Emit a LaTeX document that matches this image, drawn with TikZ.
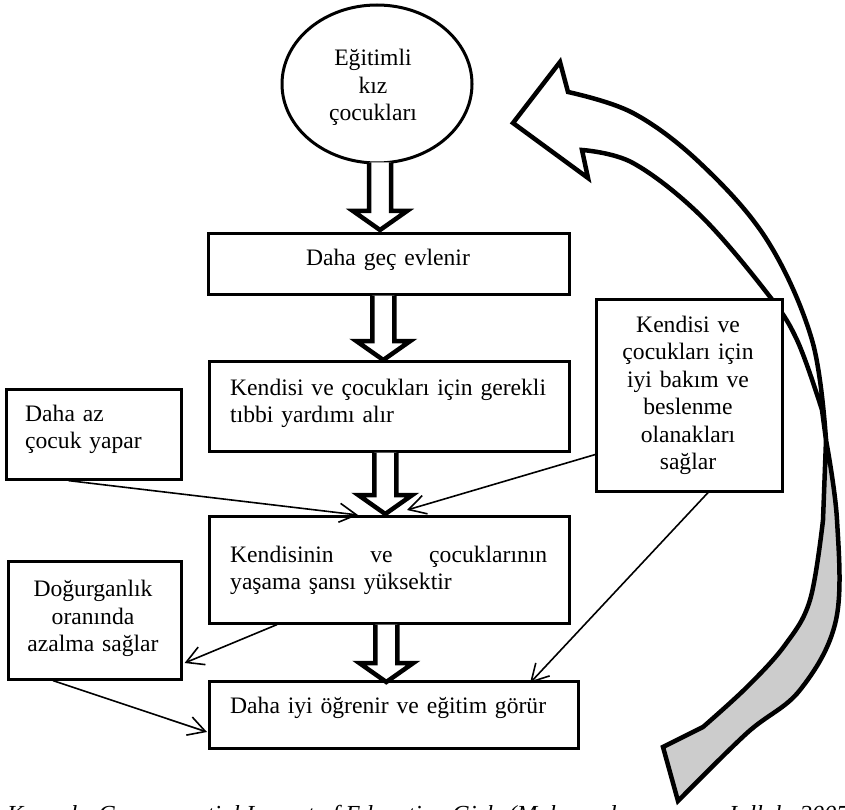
\documentclass[tikz,border=0pt]{standalone}
\usepackage{fontspec}
\setmainfont{Liberation Serif}
\usetikzlibrary{calc,arrows.meta,shapes.geometric}
\newcommand\dfont{\fontsize{23.6pt}{27.5pt}\selectfont}
\newcommand\holarrow[2]{%
  \draw[holl] ($(#1)+(-11,0)$) -- ($(#2)+(-11,-19)$) -- ($(#2)+(-27,-19)$) -- (#2)
    -- ($(#2)+(27,-19)$) -- ($(#2)+(11,-19)$) -- ($(#1)+(11,0)$);}
\begin{document}
\begin{tikzpicture}[x=1pt,y=-1pt,
  box/.style={draw, line width=2.6pt, fill=white, inner sep=0pt, anchor=north west},
  txt/.style={inner sep=0pt, font=\dfont},
  conn/.style={line width=1.6pt, -{Straight Barb[length=17pt,width=19pt]}},
  holl/.style={draw, line width=4.5pt, fill=white, line join=miter, miter limit=10},
  bigarr/.style={draw, line width=4.5pt, line join=miter, miter limit=10}
]
\useasboundingbox (0,0) rectangle (845,810);

% caption (cut at the bottom)
\node[txt, font=\fontsize{24.5pt}{28pt}\selectfont\itshape, anchor=base west] (cap) at (7,822)
  {Kaynak: Consequential Impact of Education Girls (Mahmoud\hspace{110pt}Jalloh, 2007)};

% curved arrow
\draw[bigarr, fill=gray!40]
  plot[smooth, tension=0.6] coordinates {(826,440) (837,520) (836,620) (800,690) (747,733) (678,801)}
  -- (663,747)
  -- plot[smooth, tension=0.6] coordinates {(703,727) (747,687) (785,645) (810,600) (823,520)}
  -- cycle;
\draw[bigarr, fill=white]
  (513,123) -- (560,62)
  -- plot[smooth, tension=0.6] coordinates {(568,92) (633,113) (700,163) (767,240) (812,340) (826,440)}
  -- plot[smooth, tension=0.6] coordinates {(822,410) (797,340) (767,293) (700,215) (633,163) (582,150)}
  -- (588,178) -- cycle;

% shapes
\node[draw, ellipse, line width=3pt, fill=white, minimum width=190pt, minimum height=158pt, inner sep=0pt] (e) at (377,84) {};
\node[box, minimum width=361pt, minimum height=61pt] (b1) at (207,232) {};
\node[box, minimum width=360pt, minimum height=90pt] (b2) at (208,360) {};
\node[box, minimum width=360pt, minimum height=107pt] (b3) at (208,515) {};
\node[box, minimum width=369pt, minimum height=67pt] (b4) at (208,680) {};
\node[box, minimum width=175pt, minimum height=90pt] (l1) at (5,388) {};
\node[box, minimum width=173pt, minimum height=118pt] (l2) at (7,560) {};
\node[box, minimum width=186pt, minimum height=192pt] (r1) at (595,298) {};

% texts
\node[txt, anchor=base, text width=180pt, align=center] (et) at (373,66) {Eğitimli\\kız\\çocukları};
\node[txt, anchor=base, text width=340pt, align=center] (t1) at (388,265) {Daha geç evlenir};
\node[txt, anchor=base west, text width=335pt, align=left] (t2) at (230,395) {Kendisi ve çocukları için gerekli\\tıbbi yardımı alır};
\node[txt, anchor=base west, text width=317pt, align=left] (t3) at (230,562) {Kendisinin\hfill ve\hfill çocuklarının\\yaşama şansı yüksektir};
\node[txt, anchor=base west, text width=345pt, align=left] (t4) at (230,713) {Daha iyi öğrenir ve eğitim görür};
\node[txt, anchor=base west, text width=150pt, align=left] (tl1) at (25,421) {Daha az\\çocuk yapar};
\node[txt, anchor=base, text width=170pt, align=center] (tl2) at (93,596.5) {Doğurganlık\\oranında\\azalma sağlar};
\node[txt, anchor=base, text width=184pt, align=center] (tr1) at (688,332) {Kendisi ve\\çocukları için\\iyi bakım ve\\beslenme\\olanakları\\sağlar};

% hollow arrows
\coordinate (a1t) at ($(e.south)+(3,-2)$);
\coordinate (a1h) at ($(a1t |- b1.north)+(0,-2)$);
\coordinate (a2t) at ($(b1.south)+(-5.5,0)$);
\coordinate (a2h) at (a2t |- b2.north);
\coordinate (a3t) at ($(b2.south)+(-4,0)$);
\coordinate (a3h) at ($(a3t |- b3.north)+(0,-1)$);
\coordinate (a4t) at ($(b3.south)+(-3,0)$);
\coordinate (a4h) at ($(a4t |- b4.north)+(0,2)$);
\holarrow{a1t}{a1h}
\holarrow{a2t}{a2h}
\holarrow{a3t}{a3h}
\holarrow{a4t}{a4h}

% thin connectors
\draw[conn] ($(l1.south west)!0.357!(l1.south east)$) -- ($(b3.north west)+(150,0)$);
\draw[conn] ($(r1.south west)+(0,-38)$) -- ($(b3.north west)+(199,-5)$);
\draw[conn] ($(r1.south west)+(113,0)$) -- ($(b4.north west)+(322,3)$);
\draw[conn] ($(b3.south west)+(69,0)$) -- ($(l2.north east)+(2,103)$);
\draw[conn] ($(l2.south west)+(46,0)$) -- ($(b4.north west)+(-1,52)$);
\end{tikzpicture}
\end{document}
